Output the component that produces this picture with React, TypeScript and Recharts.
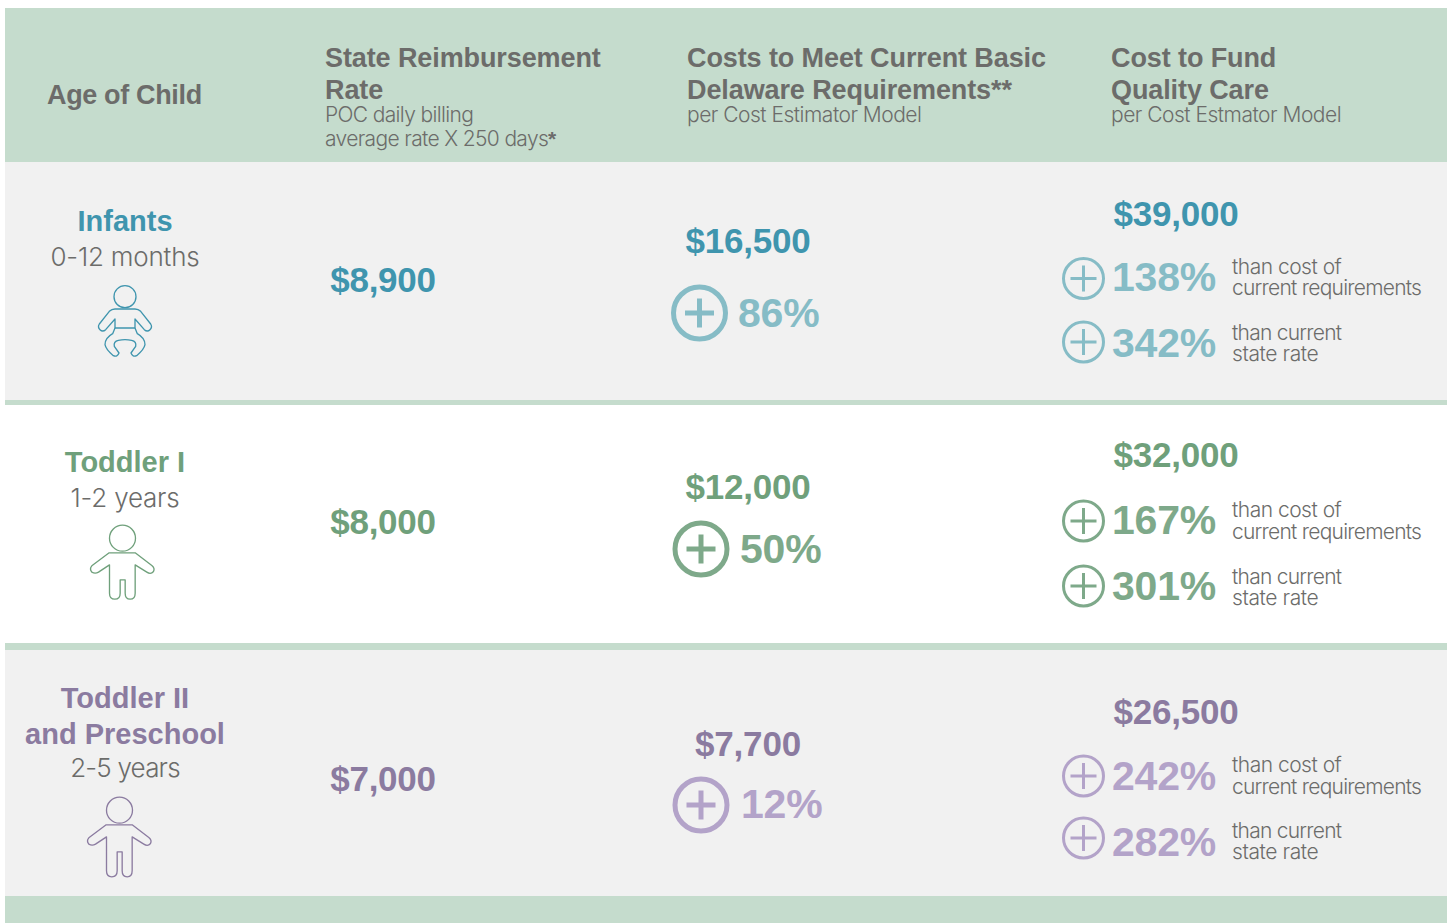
import { ScatterChart, Scatter, XAxis, YAxis, ReferenceArea } from "recharts";

// values
const ageNames = [["Infants"], ["Toddler I"], ["Toddler II", "and Preschool"]];
const ageRanges = ["0-12 months", "1-2 years", "2-5 years"];
const stateRates = [8900, 8000, 7000];
const basicCosts = [16500, 12000, 7700];
const basicIncrease = [86, 50, 12];
const qualityCosts = [39000, 32000, 26500];
const qualityOverBasic = [138, 167, 242];
const qualityOverState = [342, 301, 282];
const overBasicNote = ["than cost of", "current requirements"];
const overStateNote = ["than current", "state rate"];

const BOLD = "'Liberation Sans', Arial, sans-serif";
const LIGHT = "Inter, 'Liberation Sans', sans-serif";
const GREY = "#6c6c6a";
const HEADER_BG = "#c5dccd";
const ROW_BG = "#f1f1f1";
const STRONG = ["#3f95ae", "#6fa07b", "#8b7ba0"];
const SOFT = ["#86bcc6", "#7ea98a", "#b3a3c9"];

// page positions for each row, in px
const rowLayout = [
  { title: [231], range: 266, rangeGap: -0.2, icon: [125, 323], state: 292, basic: 253, plus: [699.5, 313], basicPct: [738, 327], quality: 226, c1: 278.5, p1: 291, n1: [274, 295], c2: 342, p2: 357, n2: [340, 361] },
  { title: [472], range: 507, rangeGap: -0.2, icon: [122.5, 566.5], state: 534, basic: 499, plus: [701, 549], basicPct: [740, 563], quality: 467, c1: 521, p1: 534, n1: [517, 539], c2: 586, p2: 600, n2: [584, 605] },
  { title: [708, 743.5], range: 777, rangeGap: -0.8, icon: [119.5, 838.5], state: 791, basic: 756, plus: [701, 805], basicPct: [741, 818], quality: 724, c1: 776, p1: 790, n1: [772, 794], c2: 838, p2: 856, n2: [838, 859] },
];

const money = (v: number) => "$" + v.toLocaleString("en-US");

type Mark = {
  x: number; y: number; kind: "text" | "plus" | "icon";
  text?: string; font?: string; size?: number; weight?: number; color?: string;
  anchor?: string; spacing?: number; r?: number; sw?: number; arm?: number; row?: number;
};

const bold = (x: number, y: number, text: string, size: number, color: string, anchor = "start", spacing = -0.1): Mark =>
  ({ x, y, kind: "text", text, font: BOLD, size, weight: 700, color, anchor, spacing });
const light = (x: number, y: number, text: string, size: number, anchor = "start", spacing = -0.5): Mark =>
  ({ x, y, kind: "text", text, font: LIGHT, size, weight: 300, color: GREY, anchor, spacing });

const headerMarks: Mark[] = [
  bold(47, 103.5, "Age of Child", 27, GREY, "start", -0.35),
  bold(325, 66.5, "State Reimbursement", 27, GREY),
  bold(325, 98.5, "Rate", 27, GREY),
  light(325, 122, "POC daily billing", 21, "start", -0.65),
  light(325, 146, "average rate X 250 days", 21, "start", -0.65),
  bold(548, 146, "*", 21, GREY),
  bold(687, 66.5, "Costs to Meet Current Basic", 27, GREY),
  bold(687, 98.5, "Delaware Requirements**", 27, GREY),
  light(687, 122, "per Cost Estimator Model", 21),
  bold(1111, 66.5, "Cost to Fund", 27, GREY),
  bold(1111, 98.5, "Quality Care", 27, GREY),
  light(1111, 122, "per Cost Estmator Model", 21),
];

const ageMarks: Mark[] = rowLayout.flatMap((l, i) => [
  ...ageNames[i].map((t, k) => bold(125, l.title[k], t, 29, STRONG[i], "middle", 0)),
  light(125, l.range, ageRanges[i], 26, "middle", l.rangeGap),
  { x: l.icon[0], y: l.icon[1], kind: "icon" as const, row: i },
]);

const stateMarks: Mark[] = rowLayout.map((l, i) => bold(383, l.state, money(stateRates[i]), 35, STRONG[i], "middle", -0.3));

const basicMarks: Mark[] = rowLayout.flatMap((l, i) => [
  bold(748, l.basic, money(basicCosts[i]), 35, STRONG[i], "middle", -0.2),
  { x: l.plus[0], y: l.plus[1], kind: "plus" as const, r: 26, sw: 5, arm: 14.5, color: SOFT[i] },
  bold(l.basicPct[0], l.basicPct[1], basicIncrease[i] + "%", 41, SOFT[i], "start", -0.2),
]);

const qualityMarks: Mark[] = rowLayout.flatMap((l, i) => [
  bold(1176, l.quality, money(qualityCosts[i]), 35, STRONG[i], "middle", -0.2),
  { x: 1083.5, y: l.c1, kind: "plus" as const, r: 20, sw: 3, arm: 13, color: SOFT[i] },
  bold(1216, l.p1, qualityOverBasic[i] + "%", 41, SOFT[i], "end", -0.2),
  light(1232, l.n1[0], overBasicNote[0], 21, "start", -0.5),
  light(1232, l.n1[1], overBasicNote[1], 21, "start", -0.75),
  { x: 1083.5, y: l.c2, kind: "plus" as const, r: 20, sw: 3, arm: 13, color: SOFT[i] },
  bold(1216, l.p2, qualityOverState[i] + "%", 41, SOFT[i], "end", -0.2),
  light(1232, l.n2[0], overStateNote[0], 21, "start", -0.75),
  light(1232, l.n2[1], overStateNote[1], 21, "start", -0.4),
]);

// outlines traced at 3x, centred on their own origin below
const toddlerBody = (legBottom: number) =>
  `M-40 -41 H38 L88 -3 Q98 5 93 15 Q85 25 73 17 L38 -5 V${legBottom - 18} Q38 ${legBottom} 23 ${legBottom} Q8 ${legBottom} 8 ${legBottom - 18} V40 H-7 V${legBottom - 18} Q-7 ${legBottom} -23 ${legBottom} Q-39 ${legBottom} -39 ${legBottom - 18} V-5 L-72 17 Q-82 23 -92 17 Q-100 7 -92 -2 Z`;

function ChildIcon({ row, color }: { row: number; color: string }) {
  if (row === 0) {
    return (
      <g fill="none" stroke={color} strokeWidth={4} strokeLinejoin="round">
        <circle cx={0} cy={-79} r={33} />
        <path d="M-30 -42 H30 Q40 -42 47 -35 L77 3 Q83 12 75 20 Q67 28 58 20 L30 -12 V15 H-30 V-12 L-58 20 Q-67 28 -75 20 Q-83 12 -77 3 L-47 -35 Q-40 -42 -30 -42 Z" />
        <path d="M-30 15 L-37 32 Q-60 45 -60 65 Q-57 80 -35 98 Q-23 103 -18 90 L-32 70 Q-35 55 -20 52 Q0 48 20 52 Q35 55 32 70 L18 90 Q23 103 35 98 Q57 80 60 65 Q60 45 37 32 L30 15" />
      </g>
    );
  }
  return (
    <g fill="none" stroke={color} strokeWidth={4} strokeLinejoin="round">
      <circle cx={0} cy={-85} r={39} />
      <path d={toddlerBody(row === 1 ? 98 : 115)} />
    </g>
  );
}

function MarkShape(props: any) {
  const { cx, cy, payload } = props;
  const m: Mark = payload;
  if (m.kind === "plus") {
    const arm = m.arm as number;
    return (
      <g fill="none" stroke={m.color} strokeWidth={m.sw}>
        <circle cx={cx} cy={cy} r={m.r} />
        <path d={`M${cx - arm} ${cy} H${cx + arm} M${cx} ${cy - arm} V${cy + arm}`} />
      </g>
    );
  }
  if (m.kind === "icon") {
    return (
      <g transform={`translate(${cx},${cy}) scale(${1 / 3})`}>
        <ChildIcon row={m.row as number} color={STRONG[m.row as number]} />
      </g>
    );
  }
  return (
    <text x={cx} y={cy} fill={m.color} textAnchor={m.anchor as any} fontFamily={m.font} fontSize={m.size} fontWeight={m.weight} letterSpacing={m.spacing}>
      {m.text}
    </text>
  );
}

export default function App() {
  return (
    <div style={{ position: "absolute", left: 0, top: 0, width: 1450, height: 923, background: "#fff" }}>
      <ScatterChart width={1450} height={923} margin={{ top: 0, right: 0, bottom: 0, left: 0 }}>
        <XAxis type="number" dataKey="x" domain={[0, 1450]} hide />
        <YAxis type="number" dataKey="y" domain={[0, 923]} reversed hide />
        <ReferenceArea x1={5} x2={1447} y1={8} y2={162} fill={HEADER_BG} fillOpacity={1} />
        <ReferenceArea x1={5} x2={1447} y1={162} y2={400} fill={ROW_BG} fillOpacity={1} />
        <ReferenceArea x1={5} x2={1447} y1={400} y2={405} fill={HEADER_BG} fillOpacity={1} />
        <ReferenceArea x1={5} x2={1447} y1={643} y2={650} fill={HEADER_BG} fillOpacity={1} />
        <ReferenceArea x1={5} x2={1447} y1={650} y2={896} fill={ROW_BG} fillOpacity={1} />
        <ReferenceArea x1={5} x2={1447} y1={896} y2={923} fill={HEADER_BG} fillOpacity={1} />
        <Scatter name="Header" data={headerMarks} shape={MarkShape} isAnimationActive={false} />
        <Scatter name="Age of Child" data={ageMarks} shape={MarkShape} isAnimationActive={false} />
        <Scatter name="State rate" data={stateMarks} shape={MarkShape} isAnimationActive={false} />
        <Scatter name="Basic requirements" data={basicMarks} shape={MarkShape} isAnimationActive={false} />
        <Scatter name="Quality care" data={qualityMarks} shape={MarkShape} isAnimationActive={false} />
      </ScatterChart>
    </div>
  );
}
